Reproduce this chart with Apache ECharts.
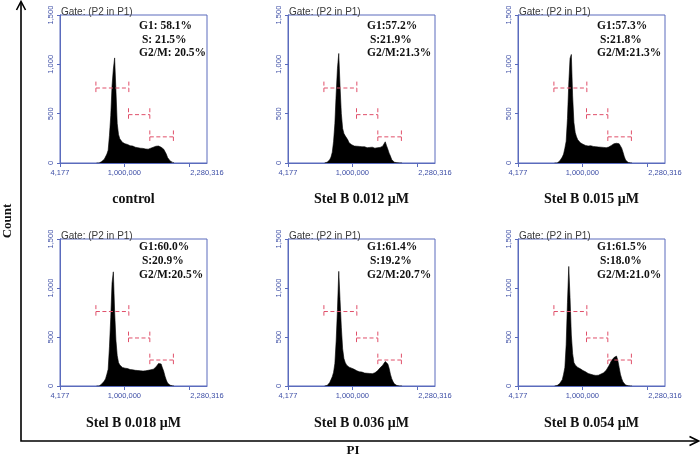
<!DOCTYPE html>
<html>
<head>
<meta charset="utf-8">
<script src="https://cdn.jsdelivr.net/npm/echarts@6/dist/echarts.min.js"></script>
<style>html,body{margin:0;padding:0;background:#fff;}#chart{width:700px;height:467px;}</style>
</head>
<body>
<div id="chart"></div>
<script>
// ---- data ----
var panelTitles = ['control', 'Stel B 0.012 μM', 'Stel B 0.015 μM', 'Stel B 0.018 μM', 'Stel B 0.036 μM', 'Stel B 0.054 μM'];
var statsG1 = ['G1: 58.1%', 'G1:57.2%', 'G1:57.3%', 'G1:60.0%', 'G1:61.4%', 'G1:61.5%'];
var statsS = [' S: 21.5%', ' S:21.9%', ' S:21.8%', ' S:20.9%', ' S:19.2%', ' S:18.0%'];
var statsG2M = ['G2/M: 20.5%', 'G2/M:21.3%', 'G2/M:21.3%', 'G2/M:20.5%', 'G2/M:20.7%', 'G2/M:21.0%'];
var gateLabel = 'Gate: (P2 in P1)';
var xAxisMin = 4177, xAxisMax = 2280316;
var xTickValues = [4177, 1000000, 2000000];
var xLabelValues = [4177, 1000000, 2280316];
// histogram bins: PI value of first bin and bin width
var binStart = 570000, binWidth = 20000;
var countsControl = [0,0,0,5,15,25,38,55,90,130,
  280,480,780,950,1065,740,400,290,245,225,
  210,205,195,185,188,178,175,170,172,165,
  160,162,155,152,150,150,148,145,142,148,
  140,142,150,155,160,165,170,165,172,158,
  160,150,140,120,90,55,35,20,12,6,
  3];
var counts012 = [0,0,8,18,33,60,110,220,400,700,
  960,1110,780,500,350,300,275,262,235,205,
  195,185,180,172,165,170,162,168,160,164,
  158,165,160,155,162,158,150,160,155,150,
  158,155,160,158,165,170,185,215,175,140,
  100,70,35,15,8,5,3,2,1,0,
  0];
var counts015 = [0,0,0,8,20,35,60,90,150,220,
  450,800,1060,1100,680,410,310,265,235,220,
  205,195,190,182,178,185,172,170,175,165,
  168,160,165,158,162,155,160,152,158,150,
  155,160,162,170,178,185,195,198,200,200,
  195,180,150,110,65,30,12,6,3,1,
  0];
var counts018 = [0,0,0,8,20,35,50,75,120,170,
  400,700,1050,1165,760,470,310,240,215,198,
  190,185,182,175,178,170,168,170,165,168,
  160,162,158,160,155,158,152,160,155,158,
  160,162,165,170,172,180,194,210,230,245,
  225,185,150,100,60,30,15,8,4,2,
  0];
var counts036 = [0,0,5,15,35,55,95,140,230,460,
  780,1170,880,600,380,280,240,215,198,192,
  188,182,177,170,165,155,150,145,140,142,
  135,132,128,130,126,128,124,126,130,135,
  142,155,170,185,200,212,230,250,258,225,
  180,120,75,45,22,10,5,3,1,0,
  0];
var counts054 = [0,0,5,12,25,40,65,120,190,420,
  850,1220,900,520,330,240,215,198,190,182,
  175,165,158,152,145,135,128,125,120,118,
  112,110,108,112,110,118,122,128,135,145,
  160,180,205,230,258,275,290,300,305,260,
  190,120,75,42,22,10,5,3,1,0,
  0];
var panelCounts = [countsControl, counts012, counts015, counts018, counts036, counts054];
// gate markers: [from, to, level]
var gateG1 = [560000, 1070000, 760];
var gateS = [1065000, 1395000, 490];
var gateG2M = [1395000, 1760000, 265];
var gateCap = 65;

(function () {
  var colLeft = [60, 288, 518];
  var rowTop = [15, 239];
  var boxW = 147, boxH = [148, 147];
  var titleY = [199.5, 423];
  var statsY = [26, 247.5];
  var blue = '#5a6bbd', labelBlue = '#3d4ea6', gateRed = '#e0506a';
  var serif = '"Liberation Serif", "Times New Roman", serif';
  var sans = '"Liberation Sans", Arial, sans-serif';
  function fmt(v) { return Math.round(v).toLocaleString('en-US'); }

  var grids = [], xAxes = [], yAxes = [], series = [], graphics = [];
  for (var i = 0; i < 6; i++) {
    var r = Math.floor(i / 3), c = i % 3;
    var gLeft = colLeft[c], gTop = rowTop[r], gH = boxH[r];
    grids.push({ left: gLeft, top: gTop, width: boxW, height: gH, show: true, borderColor: blue, borderWidth: 1, backgroundColor: 'transparent' });
    xAxes.push({ gridIndex: i, type: 'value', min: xAxisMin, max: xAxisMax,
      axisLine: { show: true, lineStyle: { color: blue, width: 1 } },
      axisTick: { show: true, length: 4, lineStyle: { color: blue }, customValues: xTickValues.slice() },
      axisLabel: { formatter: fmt, fontSize: 7.5, color: labelBlue, margin: 6, fontFamily: sans, customValues: xLabelValues.slice() },
      splitLine: { show: false } });
    yAxes.push({ gridIndex: i, type: 'value', min: 0, max: 1500, interval: 500,
      axisLine: { show: true, lineStyle: { color: blue, width: 1 } },
      axisTick: { show: true, length: 3, lineStyle: { color: blue } },
      axisLabel: { rotate: 90, formatter: fmt, fontSize: 7.5, color: labelBlue, margin: 5, fontFamily: sans },
      splitLine: { show: false } });
    var pts = [];
    for (var k = 0; k < panelCounts[i].length; k++) pts.push([binStart + k * binWidth, panelCounts[i][k]]);
    series.push({ type: 'line', xAxisIndex: i, yAxisIndex: i, data: pts, symbol: 'none', silent: true,
      lineStyle: { color: '#000', width: 0.6 }, areaStyle: { color: '#000', opacity: 1 }, z: 2 });
    series.push({ type: 'custom', xAxisIndex: i, yAxisIndex: i, silent: true, z: 5,
      data: [gateG1.slice(), gateS.slice(), gateG2M.slice()],
      renderItem: function (params, api) {
        var x1 = api.value(0), x2 = api.value(1), y = api.value(2);
        var a = api.coord([x1, y]), b = api.coord([x2, y]);
        var a1 = api.coord([x1, y + gateCap]), a2 = api.coord([x1, y - gateCap]);
        var b1 = api.coord([x2, y + gateCap]), b2 = api.coord([x2, y - gateCap]);
        function st() { return { stroke: gateRed, lineWidth: 1, lineDash: [4, 2.5], fill: null }; }
        return { type: 'group', children: [
          { type: 'line', shape: { x1: a[0], y1: a[1], x2: b[0], y2: b[1] }, style: st() },
          { type: 'line', shape: { x1: a1[0], y1: a1[1], x2: a2[0], y2: a2[1] }, style: st() },
          { type: 'line', shape: { x1: b1[0], y1: b1[1], x2: b2[0], y2: b2[1] }, style: st() }
        ] };
      } });
    graphics.push({ type: 'text', x: gLeft + 1, y: gTop - 2.5, style: { text: gateLabel, font: '10px ' + sans, fill: '#3a3a3a', textAlign: 'left', textVerticalAlign: 'middle' }, z: 10 });
    var sx = gLeft + 79, sy = statsY[r];
    var lines = [statsG1[i], statsS[i], statsG2M[i]];
    for (var j = 0; j < 3; j++) graphics.push({ type: 'text', x: sx, y: sy + j * 13.7, style: { text: lines[j], font: 'bold 11.5px ' + serif, fill: '#111', textAlign: 'left', textVerticalAlign: 'middle' }, z: 10 });
    graphics.push({ type: 'text', x: gLeft + boxW / 2, y: titleY[r], style: { text: panelTitles[i], font: 'bold 14px ' + serif, fill: '#111', textAlign: 'center', textVerticalAlign: 'middle' }, z: 10 });
  }
  graphics.push({ type: 'polyline', shape: { points: [[21, 2], [21, 441], [698, 441]] }, style: { stroke: '#000', lineWidth: 1.6, fill: null }, z: 10 });
  graphics.push({ type: 'polyline', shape: { points: [[16.5, 10], [21, 1.5], [25.5, 10]] }, style: { stroke: '#000', lineWidth: 1.6, fill: null }, z: 10 });
  graphics.push({ type: 'polyline', shape: { points: [[689.5, 436.5], [698.5, 441], [689.5, 445.5]] }, style: { stroke: '#000', lineWidth: 1.6, fill: null }, z: 10 });
  graphics.push({ type: 'text', x: 8, y: 221, rotation: Math.PI / 2, style: { text: 'Count', font: 'bold 13px ' + serif, fill: '#111', textAlign: 'center', textVerticalAlign: 'middle' }, z: 10 });
  graphics.push({ type: 'text', x: 353, y: 451, style: { text: 'PI', font: 'bold 13px ' + serif, fill: '#111', textAlign: 'center', textVerticalAlign: 'middle' }, z: 10 });

  var chart = echarts.init(document.getElementById('chart'), null, { renderer: 'canvas' });
  chart.setOption({ animation: false, backgroundColor: '#fff', grid: grids, xAxis: xAxes, yAxis: yAxes, series: series, graphic: graphics });
})();
</script>
</body>
</html>
